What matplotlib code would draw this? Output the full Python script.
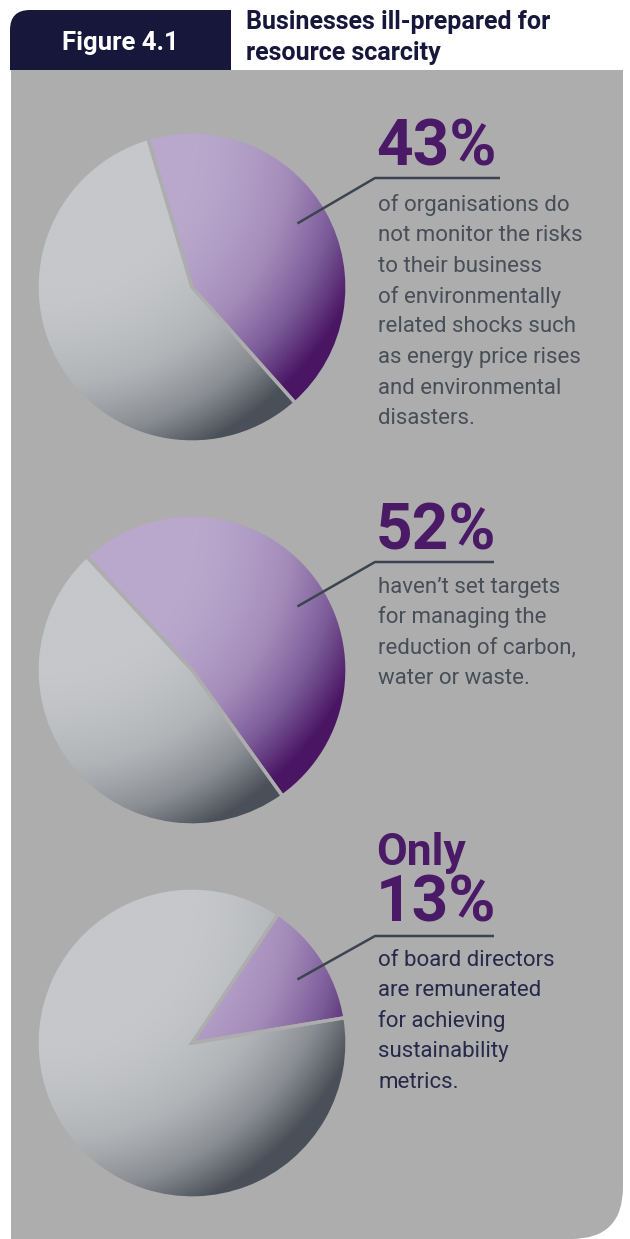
import numpy as np
import matplotlib
matplotlib.use("Agg")
import matplotlib.pyplot as plt
from matplotlib.colors import LinearSegmentedColormap
from matplotlib.patches import FancyBboxPatch, Rectangle

# Daten: Anteil (Prozent) des violetten Segments je Kreisdiagramm
shares = [43, 52, 13]
start_angles = [106.5, 132.9, 56.2]
headlines = [["43%"], ["52%"], ["Only", "13%"]]
captions = [
    ["of organisations do", "not monitor the risks", "to their business",
     "of environmentally", "related shocks such", "as energy price rises",
     "and environmental", "disasters."],
    ["haven\u2019t set targets", "for managing the",
     "reduction of carbon,", "water or waste."],
    ["of board directors", "are remunerated", "for achieving",
     "sustainability", "metrics."],
]
title_lines = ["Businesses ill-prepared for", "resource scarcity"]
fig_label = "Figure 4.1"

# Farben
panel = "#adadad"
navy = "#16173b"
purple_txt = "#4b1a67"
body_txt = ["#484e57", "#484e57", "#27294a"]
line_col = "#3c4450"

purple_map = LinearSegmentedColormap.from_list(
    "lila", ["#b9a8cc", "#a48cba", "#7a5a98", "#4a1664"])
grey_map = LinearSegmentedColormap.from_list(
    "grau", ["#c5c7ca", "#b1b4b7", "#8a8e93", "#4a5059"])

W, H = 630, 1239
fig = plt.figure(figsize=(W / 100, H / 100), dpi=100)
fig.patch.set_facecolor("white")

# Hintergrund-Achse in Pixelkoordinaten (y nach unten)
bg = fig.add_axes([0, 0, 1, 1], zorder=0)
bg.set_xlim(0, W)
bg.set_ylim(H, 0)
bg.axis("off")

# Grauer Bereich mit abgerundeter Ecke unten rechts
px0, py0, px1, py1, rad = 11, 70, 623, 1239, 52
bg.add_patch(FancyBboxPatch((px0 + rad, py0 + rad), px1 - px0 - 2 * rad, py1 - py0 - 2 * rad,
                            boxstyle=f"round,pad={rad}", fc=panel, ec="none"))
bg.add_patch(Rectangle((px0, py0), px1 - px0 - rad, py1 - py0, fc=panel, ec="none"))
bg.add_patch(Rectangle((px0, py0), px1 - px0, py1 - py0 - rad, fc=panel, ec="none"))

# Kopfbox mit abgerundeter Ecke oben links
hx0, hy0, hx1, hy1, hr = 10, 10, 231, 70, 20
bg.add_patch(FancyBboxPatch((hx0 + hr, hy0 + hr), hx1 - hx0 - 2 * hr, hy1 - hy0 - 2 * hr,
                            boxstyle=f"round,pad={hr}", fc=navy, ec="none"))
bg.add_patch(Rectangle((hx0 + hr, hy0), hx1 - hx0 - hr, hy1 - hy0, fc=navy, ec="none"))
bg.add_patch(Rectangle((hx0, hy0 + hr), hx1 - hx0, hy1 - hy0 - hr, fc=navy, ec="none"))
bg.text((hx0 + hx1) / 2, 43, fig_label, color="white", fontsize=18.5, fontweight="bold",
        family="Roboto", ha="center", va="center")
for k, t in enumerate(title_lines):
    bg.text(246, 22 + k * 31, t, color=navy, fontsize=18, fontweight="bold",
            family="Roboto", ha="left", va="center")


def gradient(cmap, n=400):
    x, y = np.meshgrid(np.linspace(-1, 1, n), np.linspace(1, -1, n))
    d = np.hypot(x + 0.9, y - 0.9)
    s = np.clip((d - 0.9) / 1.25, 0, 1) ** 1.6
    return cmap(s)


centers = [287, 670, 1043]
R = 155
pad = 1.05
cx = 192
for share, start, cy in zip(shares, start_angles, centers):
    rr = R * pad
    ax = fig.add_axes([(cx - rr) / W, 1 - (cy + rr) / H, 2 * rr / W, 2 * rr / H], zorder=1)
    wedges, _ = ax.pie([share, 100 - share], startangle=start, counterclock=False,
                       wedgeprops=dict(edgecolor=panel, linewidth=2.4))
    for w, cmap in zip(wedges, [purple_map, grey_map]):
        w.set_facecolor("none")
        im = ax.imshow(gradient(cmap), extent=(-1, 1, -1, 1), zorder=0.5,
                       interpolation="bilinear")
        im.set_clip_path(w)
    ax.set_xlim(-pad, pad)
    ax.set_ylim(-pad, pad)
    ax.set_aspect("equal")
    ax.axis("off")

# Vordergrund: Linien und Texte
fg = fig.add_axes([0, 0, 1, 1], zorder=2)
fg.set_xlim(0, W)
fg.set_ylim(H, 0)
fg.axis("off")
fg.patch.set_alpha(0)

head_base = [165, 550, 922]
line_y = [178, 562, 936]
line_x1 = [500, 494, 494]
text_y0 = [205, 587, 960]
for i in range(3):
    cy = centers[i]
    # Verbindungslinie vom Segment zum Text
    fg.plot([cx + 0.68 * R, 375, line_x1[i]], [cy - 0.41 * R, line_y[i], line_y[i]],
            color=line_col, lw=1.8, solid_capstyle="butt")
    heads = headlines[i]
    for j, h in enumerate(reversed(heads)):
        size = 46 if j == 0 else 32
        yb = head_base[i] - j * 57
        fg.text(376, yb, h, color=purple_txt, fontsize=size, fontweight="bold",
                family="Roboto", ha="left", va="baseline")
    for k, line in enumerate(captions[i]):
        fg.text(378, text_y0[i] + k * 30.5, line, color=body_txt[i], fontsize=16,
                family="Roboto", ha="left", va="center")

fig.savefig("out.png", dpi=100)
